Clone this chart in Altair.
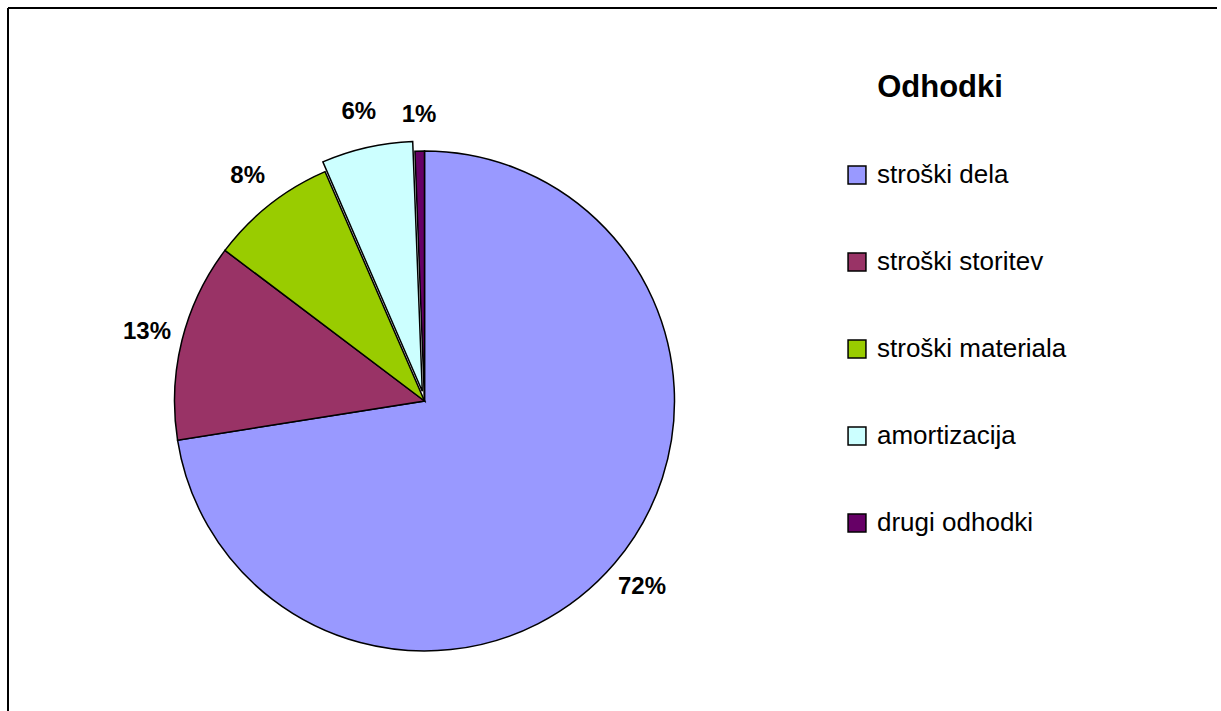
import altair as alt
import pandas as pd

# Expense structure (shares in percent)
CATEGORIES = ["stroški dela", "stroški storitev", "stroški materiala", "amortizacija", "drugi odhodki"]
SHARES = [72.49, 12.8, 8.2, 5.9, 0.61]
COLORS = ["#9999FF", "#993366", "#99CC00", "#CCFFFF", "#660066"]
TITLE = "Odhodki"
EXPLODED = "amortizacija"

TOTAL = sum(SHARES)
W, H = 1213, 703
CX, CY = 416.5, 393.0
R = 250
LABEL_R = 286
EXPLODE = 10
FONT = "Liberation Sans"

df = pd.DataFrame({"category": CATEGORIES, "share": SHARES, "order": list(range(len(CATEGORIES)))})

theta_scale = alt.Scale(domain=[0, TOTAL])

color = alt.Color(
    "category:N",
    sort=CATEGORIES,
    scale=alt.Scale(domain=CATEGORIES, range=COLORS),
    legend=alt.Legend(
        title=None,
        orient="none",
        legendX=836,
        legendY=154,
        symbolType="square",
        symbolSize=320,
        symbolStrokeColor="black",
        symbolStrokeWidth=1.5,
        symbolOpacity=1,
        labelFont=FONT,
        labelFontSize=26,
        labelColor="black",
        labelOffset=7,
        labelLimit=400,
        rowPadding=61,
    ),
)

base = (
    alt.Chart(df)
    .transform_window(cum="sum(share)", sort=[alt.SortField("order")], frame=[None, 0])
    .transform_calculate(start="datum.cum - datum.share")
    .transform_calculate(mid="datum.cum - datum.share / 2")
    .transform_calculate(ang=f"2 * PI * datum.mid / {TOTAL}")
    .transform_calculate(off=f"datum.category === '{EXPLODED}' ? {EXPLODE} : 0")
    .transform_calculate(px=f"{CX} + datum.off * sin(datum.ang)")
    .transform_calculate(py=f"{CY} - datum.off * cos(datum.ang)")
    .transform_calculate(label="round(datum.share) + '%'")
)

arcs = base.mark_arc(radius=R, stroke="black", strokeWidth=1.5).encode(
    theta=alt.Theta("start:Q", scale=theta_scale, stack=None),
    theta2="cum:Q",
    x=alt.X("px:Q", scale=None),
    y=alt.Y("py:Q", scale=None),
    color=color,
)

labels = base.mark_text(
    radius=LABEL_R, font=FONT, fontSize=24, fontWeight="bold", color="black",
    align="center", baseline="middle",
).encode(
    theta=alt.Theta("mid:Q", scale=theta_scale, stack=None),
    x=alt.X("px:Q", scale=None),
    y=alt.Y("py:Q", scale=None),
    text="label:N",
)

one_row = alt.Data(values=[{"t": TITLE}])

title = alt.Chart(one_row).mark_text(
    font=FONT, fontSize=31, fontWeight="bold", color="black", align="center", baseline="middle"
).encode(x=alt.value(932), y=alt.value(80), text="t:N")

# chart frame: top and left edges
frame_top = alt.Chart(one_row).mark_rule(color="black", strokeWidth=2).encode(
    x=alt.value(0), x2=alt.value(1209), y=alt.value(0)
)
frame_left = alt.Chart(one_row).mark_rule(color="black", strokeWidth=2).encode(
    x=alt.value(0), y=alt.value(0), y2=alt.value(H)
)

chart = (
    alt.layer(arcs, labels, title, frame_top, frame_left)
    .properties(
        width=W,
        height=H,
        padding={"left": 8, "top": 8, "right": 0, "bottom": 0},
        autosize="none",
        background="white",
    )
    .configure_view(strokeWidth=0)
)

chart.save("out.html", embed_options={"renderer": "svg", "actions": False})
